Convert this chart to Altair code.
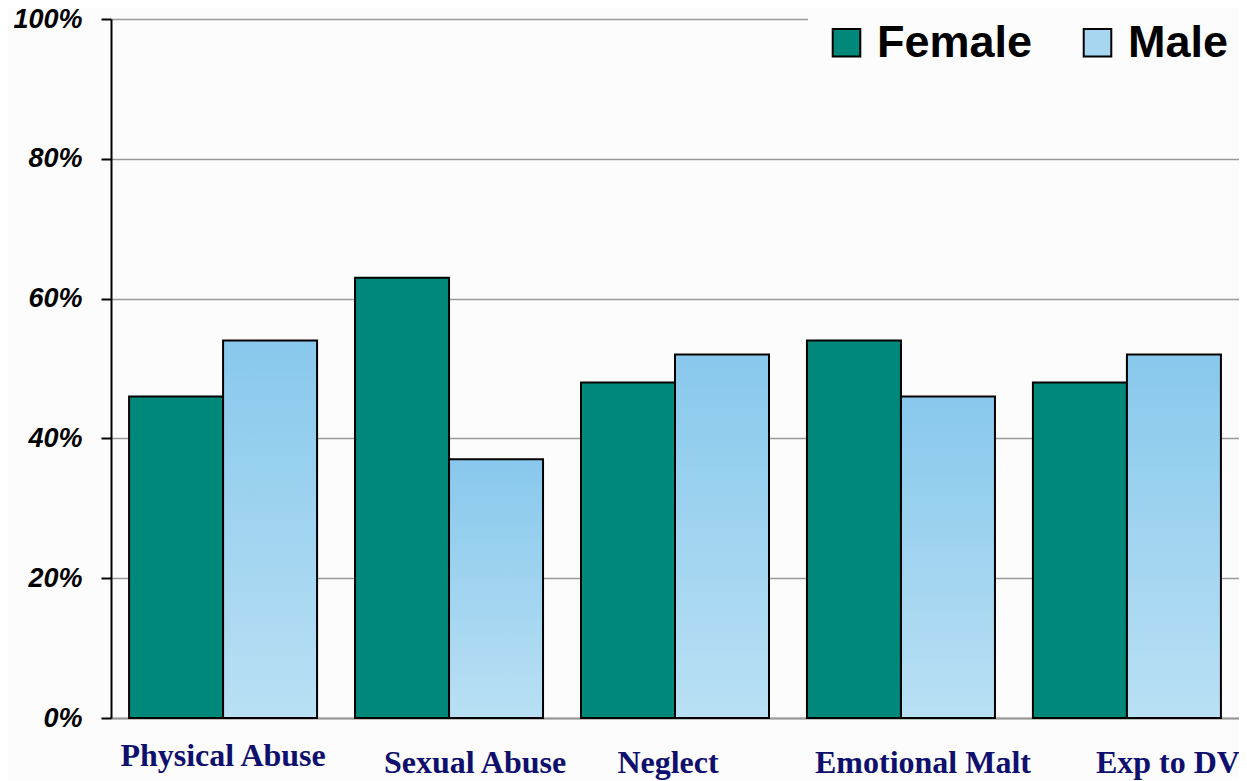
import altair as alt
import pandas as pd

categories = ["Physical Abuse", "Sexual Abuse", "Neglect", "Emotional Malt", "Exp to DV"]
series = ["Female", "Male"]
female = [46, 63, 48, 54, 48]
male = [54, 37, 52, 46, 52]
y_ticks = [0, 20, 40, 60, 80, 100]

rows = []
for c, f, m in zip(categories, female, male):
    rows.append({"category": c, "series": "Female", "value": f})
    rows.append({"category": c, "series": "Male", "value": m})
df = pd.DataFrame(rows)

TEAL = "#00897B"
BLUE_TOP = "#88C8EC"
BLUE_BOTTOM = "#B9E0F4"
NAVY = "#0F0F6E"
BG = "#FCFCFC"

label_shift = {"Sexual Abuse": 26, "Neglect": -7, "Emotional Malt": 22, "Exp to DV": 41}
x_label_offset = {
    "condition": [{"test": f"datum.value === '{k}'", "value": v} for k, v in label_shift.items()],
    "value": 0,
}
x_label_padding = {
    "condition": {"test": "datum.value === 'Physical Abuse'", "value": 47},
    "value": 54,
}

x_enc = alt.X(
    "category:N",
    sort=categories,
    title=None,
    scale=alt.Scale(paddingInner=0.168, paddingOuter=0.08),
    axis=alt.Axis(
        labelAngle=0,
        ticks=False,
        tickSize=0,
        domainColor="#999999",
        domainWidth=2,
        labelFont="Liberation Serif",
        labelFontWeight="bold",
        labelFontSize=32,
        labelColor=NAVY,
        labelBaseline="alphabetic",
        labelLimit=0,
        labelOffset=x_label_offset,
        labelPadding=x_label_padding,
    ),
)
y_enc = alt.Y(
    "value:Q",
    title=None,
    scale=alt.Scale(domain=[0, 100], nice=False),
    axis=alt.Axis(
        values=y_ticks,
        labelExpr="datum.value + '%'",
        labelFont="Liberation Sans",
        labelFontWeight="bold",
        labelFontStyle="italic",
        labelFontSize=27,
        labelColor="black",
        labelPadding=19,
        tickSize=10,
        tickColor="black",
        tickWidth=2,
        domainColor="black",
        domainWidth=2,
        gridColor="#999999",
        gridWidth=1.5,
    ),
)
xoff_enc = alt.XOffset("series:N", scale=alt.Scale(domain=series, paddingInner=0, paddingOuter=0))

female_layer = (
    alt.Chart(df)
    .transform_filter("datum.series === 'Female'")
    .mark_bar(stroke="black", strokeWidth=2, opacity=1)
    .encode(
        color=alt.Color(
            "series:N",
            scale=alt.Scale(domain=series, range=[TEAL, "#A6D6F0"]),
            legend=alt.Legend(
                title=None,
                orient="none",
                legendX=697,
                legendY=-15,
                direction="horizontal",
                labelFont="Liberation Sans",
                labelFontWeight="bold",
                labelFontSize=45,
                labelColor="black",
                labelLimit=0,
                symbolType="square",
                symbolSize=760,
                symbolStrokeColor="black",
                symbolStrokeWidth=2,
                symbolOpacity=1,
                labelOffset=8,
                columnPadding=42,
                fillColor=BG,
                padding=16,
            ),
        )
    )
)

male_layer = (
    alt.Chart(df)
    .transform_filter("datum.series === 'Male'")
    .mark_bar(
        stroke="black",
        strokeWidth=2,
        fill=alt.Gradient(
            gradient="linear",
            stops=[
                alt.GradientStop(color=BLUE_BOTTOM, offset=0),
                alt.GradientStop(color=BLUE_TOP, offset=1),
            ],
            x1=0, x2=0, y1=1, y2=0,
        ),
    )
)

chart = (
    alt.layer(female_layer, male_layer)
    .encode(x=x_enc, y=y_enc, xOffset=xoff_enc)
    .properties(
        width=1128,
        height=699,
        background=BG,
        padding={"left": 103, "top": 11, "right": 0, "bottom": 62},
        autosize=alt.AutoSizeParams(type="none"),
    )
    .configure_view(stroke=None)
)

chart.save("out.html", embed_options={"renderer": "svg", "actions": False})
